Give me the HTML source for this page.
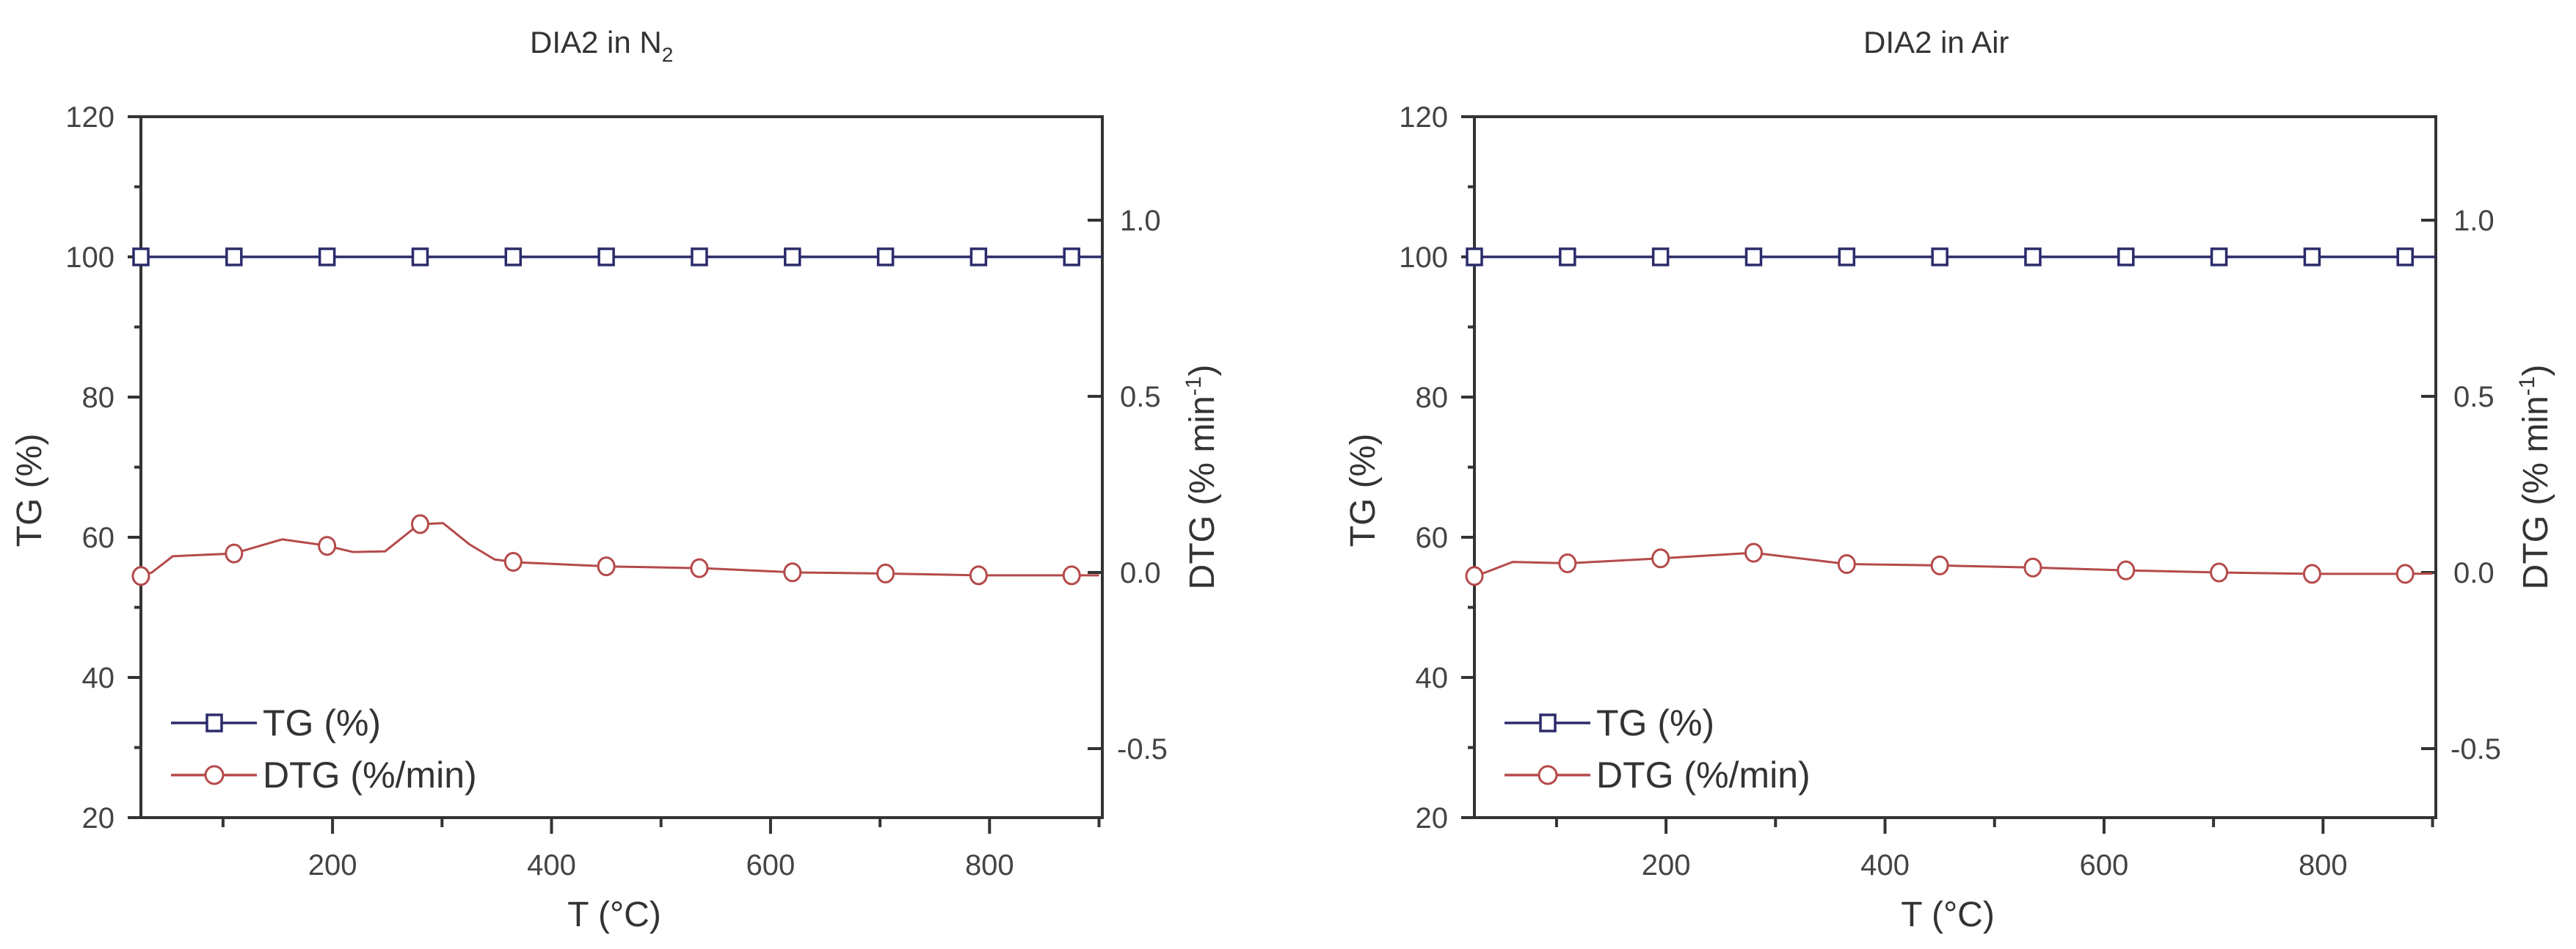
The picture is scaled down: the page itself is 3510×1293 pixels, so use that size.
<!DOCTYPE html>
<html><head><meta charset="utf-8">
<style>
html,body{margin:0;padding:0;background:#fff;}
svg{display:block;font-family:"Liberation Sans",Arial,sans-serif;}
</style></head>
<body>
<svg id="fig" width="3510" height="1293" viewBox="0 0 3510 1293" xmlns="http://www.w3.org/2000/svg"></svg>
<script>
// ---- data ----
const markerTemps = [25,110,195,280,365,450,535,620,705,790,875];
const tgN2 = [100,100,100,100,100,100,100,100,100,100,100];
const tgAir = [100,100,100,100,100,100,100,100,100,100,100];
const dtgN2Temps = [25,35,54,110,154,193,219,248,279,301,325,348,368,454,539,624,707,789,900];
const dtgN2Vals  = [-0.01,0.0,0.046,0.054,0.094,0.077,0.058,0.06,0.137,0.14,0.08,0.037,0.029,0.017,0.012,0.0,-0.003,-0.008,-0.008];
const dtgAirTemps = [25,35,60,110,195,280,365,450,535,620,705,790,875,900];
const dtgAirVals  = [-0.01,0.0,0.03,0.026,0.04,0.056,0.024,0.02,0.014,0.006,0.0,-0.004,-0.004,-0.003];
const xTicks = [200,400,600,800];
const xMinor = [100,300,500,700];
const yTicks = [20,40,60,80,100,120];
const yMinor = [30,50,70,90,110];
const y2Ticks = [-0.5,0.0,0.5,1.0];
const y2Labels = ["-0.5","0.0","0.5","1.0"];

const NS="http://www.w3.org/2000/svg";
const svg=document.getElementById('fig');
function mk(tag,attrs,parent){const e=document.createElementNS(NS,tag);for(const k in attrs)e.setAttribute(k,attrs[k]);(parent||svg).appendChild(e);return e;}

function chart(ox,title,titleSub,tg,dtgT,dtgV,name){
  const L=ox, R=ox+1310, T=159, B=1114;
  const X0=25,X1=903;
  const x=v=>L+(v-X0)/(X1-X0)*(R-L);
  const y=v=>T+(120-v)/(120-20)*(B-T);
  const y2=v=>780-v*480;
  const g=mk('g',{});
  
  
  // title
  const tt=mk('text',{x:L+530,y:72,'font-size':42,fill:'#333'},g);
  
  
  tt.textContent=title;
  if(titleSub){const s=mk('tspan',{'font-size':28,dy:12},tt);s.textContent=titleSub;}
  // frame
  const fr=mk('path',{d:`M${L},${B} L${L},${T} L${R},${T} L${R},${B} Z`,fill:'none',stroke:'#333','stroke-width':4},g);
  
  
  // left ticks
  yTicks.forEach(v=>{
    const l=mk('line',{x1:L-18,x2:L,y1:y(v),y2:y(v),stroke:'#333','stroke-width':4},g);
    
    
    const t=mk('text',{x:L-36,y:y(v)+14,'font-size':40,fill:'#444','text-anchor':'end'},g);
    
    
    t.textContent=v;
  });
  yMinor.forEach(v=>{
    const l=mk('line',{x1:L-9,x2:L,y1:y(v),y2:y(v),stroke:'#333','stroke-width':4},g);
    
    
  });
  // x ticks
  xTicks.forEach(v=>{
    const l=mk('line',{x1:x(v),x2:x(v),y1:B,y2:B+22,stroke:'#333','stroke-width':4},g);
    
    
    const t=mk('text',{x:x(v),y:B+78,'font-size':40,fill:'#444','text-anchor':'middle'},g);
    
    
    t.textContent=v;
  });
  xMinor.concat([X1-3]).forEach(v=>{
    const l=mk('line',{x1:x(v),x2:x(v),y1:B,y2:B+13,stroke:'#333','stroke-width':4},g);
    
    
  });
  // right ticks
  y2Ticks.forEach((v,i)=>{
    const l=mk('line',{x1:R-20,x2:R,y1:y2(v),y2:y2(v),stroke:'#333','stroke-width':4},g);
    
    
    const t=mk('text',{x:R+(v<0?20:24),y:y2(v)+14,'font-size':40,fill:'#444'},g);
    
    
    t.textContent=y2Labels[i];
  });
  // axis titles
  const xt=mk('text',{x:L+645,y:1262,'font-size':48,fill:'#333','text-anchor':'middle'},g);
  
  
  xt.textContent='T (°C)';
  const yt=mk('text',{x:0,y:0,'font-size':48,fill:'#333','text-anchor':'middle',transform:`translate(${L-136},${668}) rotate(-90)`},g);
  
  
  yt.textContent='TG (%)';
  const y2t=mk('text',{x:0,y:0,'font-size':48,fill:'#333','text-anchor':'middle',transform:`translate(${R+152},${650}) rotate(-90)`},g);
  
  
  y2t.textContent='DTG (% min';
  const sup=mk('tspan',{'font-size':30,dy:-18},y2t);sup.textContent='-1';
  const cl=mk('tspan',{dy:18},y2t);cl.textContent=')';
  // TG series
  const tgc='#2b2b6b', dc='#b54a4a';
  const tp=mk('polyline',{points:markerTemps.map((t,i)=>`${x(t)},${y(tg[i])}`).join(' ')+` ${R},${y(tg[tg.length-1])}`,fill:'none',stroke:tgc,'stroke-width':3.5},g);
  
  
  markerTemps.forEach((t,i)=>{
    const r=mk('rect',{x:x(t)-10,y:y(tg[i])-11,width:20,height:22,fill:'#fff',stroke:tgc,'stroke-width':3.5},g);
    
    
  });
  // DTG series
  const interp=t=>{for(let i=0;i<dtgT.length-1;i++){if(t>=dtgT[i]&&t<=dtgT[i+1]){const f=(t-dtgT[i])/(dtgT[i+1]-dtgT[i]);return dtgV[i]+f*(dtgV[i+1]-dtgV[i]);}}return dtgV[dtgV.length-1];};
  let d='';
  dtgT.forEach((t,i)=>{d+=(i?'L':'M')+x(t)+','+y2(dtgV[i])+' ';});
  const dp=mk('path',{d:d,fill:'none',stroke:dc,'stroke-width':3,'stroke-linejoin':'round'},g);
  
  
  markerTemps.forEach(t=>{
    const c=mk('ellipse',{cx:x(t),cy:y2(interp(t)),rx:11,ry:12,fill:'#fff',stroke:dc,'stroke-width':3},g);
    
    
  });
  // legend
  const lg=mk('g',{},g);
  
  
  const items=[['TG (%)',tgc,'sq',985],['DTG (%/min)',dc,'ci',1056]];
  items.forEach(it=>{
    const e=mk('g',{},lg);
    
    
    mk('line',{x1:L+41,x2:L+158,y1:it[3],y2:it[3],stroke:it[1],'stroke-width':3.5},e);
    if(it[2]==='sq')mk('rect',{x:L+90,y:it[3]-11,width:20,height:22,fill:'#fff',stroke:it[1],'stroke-width':3.5},e);
    else mk('ellipse',{cx:L+100,cy:it[3],rx:12,ry:12,fill:'#fff',stroke:it[1],'stroke-width':3},e);
    const t=mk('text',{x:L+166,y:it[3]+17,'font-size':50,fill:'#333'},e);
    t.textContent=it[0];
  });
}
chart(192,'DIA2 in N','2',tgN2,dtgN2Temps,dtgN2Vals,'chart-n2');
chart(2009,'DIA2 in Air','',tgAir,dtgAirTemps,dtgAirVals,'chart-air');
</script>
</body></html>
